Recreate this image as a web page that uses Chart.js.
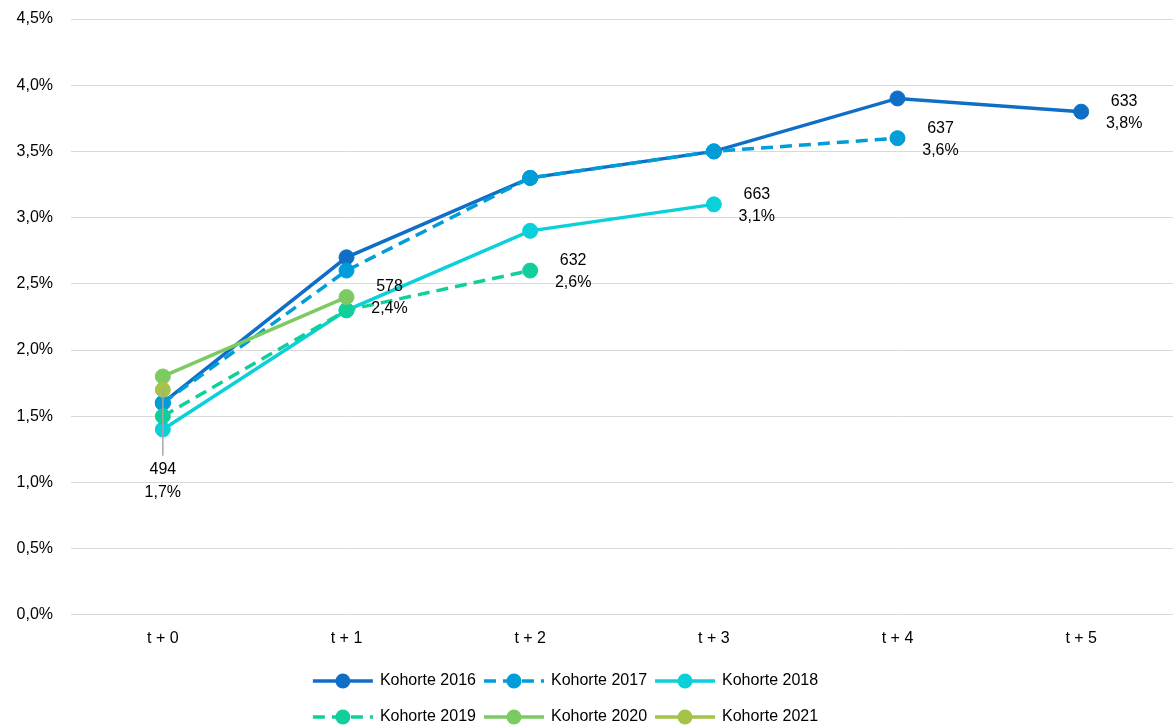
<!DOCTYPE html>
<html lang="de">
  <head>
    <meta charset="utf-8">
    <title>Kohorten</title>
    <script src="https://cdn.jsdelivr.net/npm/chart.js@4.4.0/dist/chart.umd.min.js"></script>
    <style>
      html, body { margin: 0; padding: 0; background: #fff; }
      #wrap { width: 1173px; height: 727px; }
    </style>
  </head>
  <body>
    <div id="wrap"><canvas id="chart"></canvas></div>

    <script>
    // categories (years after start)
    const xlabels = ['t + 0', 't + 1', 't + 2', 't + 3', 't + 4', 't + 5'];

    // share in percent, per cohort
    const k2016 = [1.6, 2.7, 3.3, 3.5, 3.9, 3.8];
    const k2017 = [1.6, 2.6, 3.3, 3.5, 3.6, null];
    const k2018 = [1.4, 2.3, 2.9, 3.1, null, null];
    const k2019 = [1.5, 2.3, 2.6, null, null, null];
    const k2020 = [1.8, 2.4, null, null, null, null];
    const k2021 = [1.7, null, null, null, null, null];

    // count shown next to the last point of each cohort
    const lastCounts = [633, 637, 663, 632, 578, 494];

    const cohortNames = ['Kohorte 2016', 'Kohorte 2017', 'Kohorte 2018', 'Kohorte 2019', 'Kohorte 2020', 'Kohorte 2021'];
    const cohortColors = ['#0F6FC6', '#009DD9', '#0BD0D9', '#10CF9B', '#7CCA62', '#A5C249'];
    const cohortDashed = [false, true, false, true, false, false];
    const seriesData = [k2016, k2017, k2018, k2019, k2020, k2021];

    const FONT = '"Liberation Sans", Arial, sans-serif';
    const DASH = [12, 7];

    const fmtPct = v => v.toFixed(1).replace('.', ',') + '%';

    // count + percent label at the end of each line
    const endLabels = {
      id: 'endLabels',
      afterDatasetsDraw(chart) {
        const ctx = chart.ctx;
        ctx.save();
        ctx.font = '16px ' + FONT;
        ctx.fillStyle = '#000';
        ctx.textAlign = 'center';
        ctx.textBaseline = 'middle';
        chart.data.datasets.forEach((ds, i) => {
          let idx = ds.data.length - 1;
          while (idx >= 0 && ds.data[idx] == null) idx--;
          if (idx < 0) return;
          const pt = chart.getDatasetMeta(i).data[idx];
          const txt1 = String(lastCounts[i]);
          const txt2 = fmtPct(ds.data[idx]);
          if (ds.labelBelow) {
            ctx.strokeStyle = '#a6a6a6';
            ctx.lineWidth = 1.5;
            ctx.beginPath();
            ctx.moveTo(pt.x, pt.y);
            ctx.lineTo(pt.x, pt.y + 66);
            ctx.stroke();
            ctx.fillText(txt1, pt.x, pt.y + 80);
            ctx.fillText(txt2, pt.x, pt.y + 103);
          } else {
            ctx.fillText(txt1, pt.x + 43, pt.y - 10);
            ctx.fillText(txt2, pt.x + 43, pt.y + 12);
          }
        });
        ctx.restore();
      }
    };

    // legend in two rows of three, line + marker like the series
    const rowLegend = {
      id: 'rowLegend',
      afterDraw(chart) {
        const ctx = chart.ctx;
        const sets = chart.data.datasets;
        const lineW = 60, gapText = 7, gapItem = 8, perRow = 3;
        const center = chart.width / 2 - 21;
        ctx.save();
        ctx.font = '16px ' + FONT;
        ctx.textBaseline = 'middle';
        ctx.textAlign = 'left';
        for (let r = 0; r * perRow < sets.length; r++) {
          const row = sets.slice(r * perRow, r * perRow + perRow);
          const widths = row.map(d => lineW + gapText + ctx.measureText(d.label).width);
          const total = widths.reduce((a, b) => a + b, 0) + gapItem * (row.length - 1);
          let x = center - total / 2;
          const y = chart.height - 46 + r * 36;
          row.forEach((d, j) => {
            ctx.strokeStyle = d.borderColor;
            ctx.lineWidth = 3.5;
            ctx.setLineDash(d.borderDash || []);
            ctx.beginPath();
            ctx.moveTo(x, y);
            ctx.lineTo(x + lineW, y);
            ctx.stroke();
            ctx.setLineDash([]);
            ctx.fillStyle = d.borderColor;
            ctx.beginPath();
            ctx.arc(x + lineW / 2, y, 7.5, 0, Math.PI * 2);
            ctx.fill();
            ctx.fillStyle = '#000';
            ctx.fillText(d.label, x + lineW + gapText, y);
            x += widths[j] + gapItem;
          });
        }
        ctx.restore();
      }
    };

    const datasets = seriesData.map((vals, i) => ({
      label: cohortNames[i],
      data: vals,
      borderColor: cohortColors[i],
      backgroundColor: cohortColors[i],
      pointBackgroundColor: cohortColors[i],
      pointBorderColor: cohortColors[i],
      borderWidth: 3.5,
      borderDash: cohortDashed[i] ? DASH : [],
      pointRadius: 7.5,
      pointBorderWidth: 1,
      pointHoverRadius: 7.5,
      tension: 0,
      spanGaps: false,
      order: seriesData.length - i,
      labelBelow: i === seriesData.length - 1
    }));

    const ctx = document.getElementById('chart').getContext('2d');
    const myChart = new Chart(ctx, {
      type: 'line',
      data: { labels: xlabels, datasets: datasets },
      options: {
        responsive: true,
        maintainAspectRatio: false,
        animation: false,
        layout: { autoPadding: false, padding: { top: 19, right: 0, left: 0, bottom: 65 } },
        plugins: {
          legend: { display: false },
          tooltip: { enabled: false }
        },
        scales: {
          x: {
            offset: true,
            grid: { display: false, drawTicks: false },
            border: { display: false },
            ticks: { color: '#000', font: { family: FONT, size: 16 }, padding: 14 }
          },
          y: {
            min: 0,
            max: 4.5,
            grid: { color: '#d9d9d9', lineWidth: 1, drawTicks: false },
            border: { display: false },
            afterFit(scale) {
              scale.width = 71;
              scale.paddingTop = 0;
              scale.paddingBottom = 0;
            },
            ticks: {
              stepSize: 0.5,
              padding: 18,
              color: '#000',
              font: { family: FONT, size: 16 },
              callback: function(value) { return fmtPct(value); }
            }
          }
        }
      },
      plugins: [endLabels, rowLegend]
    });
    </script>
  </body>
</html>
